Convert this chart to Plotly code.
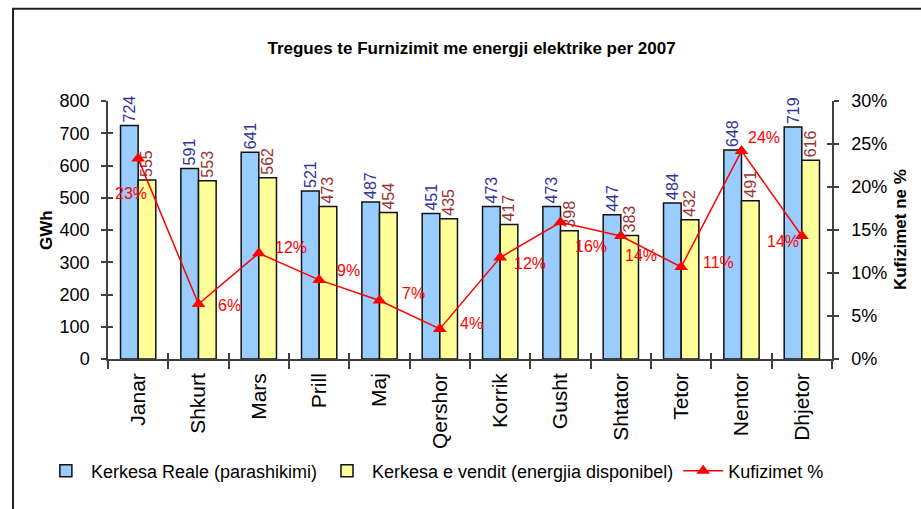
import plotly.graph_objects as go

months = ["Janar", "Shkurt", "Mars", "Prill", "Maj", "Qershor", "Korrik",
          "Gusht", "Shtator", "Tetor", "Nentor", "Dhjetor"]
kerkesa_reale = [724, 591, 641, 521, 487, 451, 473, 473, 447, 484, 648, 719]
kerkesa_vendit = [555, 553, 562, 473, 454, 435, 417, 398, 383, 432, 491, 616]
kufizimet = [0.233, 0.064, 0.123, 0.092, 0.068, 0.035, 0.118, 0.159, 0.143, 0.107, 0.242, 0.143]

# label offsets (pixels) for the percentage labels, relative to the markers
lab_dx = [-7, 31, 32, 29, 34, 32, 30, 30, 20, 37, 22, -19]
lab_dy = [-35, -2, 6, 9, 7, 5, -6, -24, -19, 4, 13, -5]

FONT = "Liberation Sans, Arial, sans-serif"

fig = go.Figure()
fig.add_trace(go.Bar(
    x=months, y=kerkesa_reale, name="Kerkesa Reale (parashikimi)",
    marker=dict(color="#99CCFF", line=dict(color="#111111", width=1.5)),
    text=[str(v) for v in kerkesa_reale], textposition="outside", textangle=-90,
    textfont=dict(family=FONT, size=16, color="#333399"),
    constraintext="none", cliponaxis=False,
))
fig.add_trace(go.Bar(
    x=months, y=kerkesa_vendit, name="Kerkesa e vendit (energjia disponibel)",
    marker=dict(color="#FFFF99", line=dict(color="#111111", width=1.5)),
    text=[str(v) for v in kerkesa_vendit], textposition="outside", textangle=-90,
    textfont=dict(family=FONT, size=16, color="#993333"),
    constraintext="none", cliponaxis=False,
))
fig.add_trace(go.Scatter(
    x=months, y=kufizimet, name="Kufizimet %", yaxis="y2",
    mode="lines+markers",
    line=dict(color="#FF0000", width=1.5),
    marker=dict(symbol="triangle-up", size=12, color="#FF0000"),
    cliponaxis=False,
))

annotations = []
for m, v, dx, dy in zip(months, kufizimet, lab_dx, lab_dy):
    annotations.append(dict(
        x=m, y=v, xref="x", yref="y2", text=f"{round(v*100):d}%",
        showarrow=False, xshift=dx, yshift=dy,
        font=dict(family=FONT, size=16, color="#FF0000"),
    ))
annotations.append(dict(
    x=-0.0856, y=0.5, xref="paper", yref="paper", text="<b>GWh</b>",
    textangle=-90, showarrow=False, xanchor="center", yanchor="middle",
    font=dict(family=FONT, size=17, color="#000000"),
))
annotations.append(dict(
    x=1.094, y=0.5, xref="paper", yref="paper", text="<b>Kufizimet ne %</b>",
    textangle=-90, showarrow=False, xanchor="center", yanchor="middle",
    font=dict(family=FONT, size=17, color="#000000"),
))

axis_col = "#404040"
ytick_vals = [0, 100, 200, 300, 400, 500, 600, 700, 800]
y2tick_vals = [0, 0.05, 0.10, 0.15, 0.20, 0.25, 0.30]

fig.update_layout(
    template="none",
    width=921, height=509,
    margin=dict(l=108, r=89, t=101, b=150, autoexpand=False),
    paper_bgcolor="white", plot_bgcolor="white",
    barmode="group", bargap=0.415, bargroupgap=0,
    title=dict(text="<b>Tregues te Furnizimit me energji elektrike per 2007</b>",
               x=0.512, xanchor="center", y=0.906, yanchor="middle",
               font=dict(family=FONT, size=17, color="#000000")),
    font=dict(family=FONT, size=18, color="#000000"),
    xaxis=dict(type="category", range=[-0.5, 11.5], tickangle=-90,
               tickson="boundaries",
               ticks="outside", ticklen=8, tickcolor=axis_col, tickwidth=1.5,
               showline=True, linecolor=axis_col, linewidth=1.5,
               showgrid=False, tickfont=dict(family=FONT, size=21),
               ticklabelstandoff=4, automargin=False),
    yaxis=dict(range=[0, 800], tickvals=ytick_vals, ticks="outside", ticklen=5,
               tickcolor=axis_col, tickwidth=1.5, showline=True,
               linecolor=axis_col, linewidth=1.5, showgrid=False, zeroline=False,
               tickfont=dict(family=FONT, size=18), ticklabelstandoff=8,
               automargin=False),
    yaxis2=dict(range=[0, 0.30], tickvals=y2tick_vals, tickformat=".0%",
                overlaying="y", side="right", ticks="outside", ticklen=5,
                tickcolor=axis_col, tickwidth=1.5, showline=True,
                linecolor=axis_col, linewidth=1.5, showgrid=False, zeroline=False,
                tickfont=dict(family=FONT, size=18), ticklabelstandoff=9,
                automargin=False),
    yaxis3=dict(range=[0, 800], tickvals=ytick_vals, overlaying="y", side="left",
                ticks="inside", ticklen=5, tickcolor=axis_col, tickwidth=1.5,
                showticklabels=False, showline=False, showgrid=False, zeroline=False,
                automargin=False),
    yaxis4=dict(range=[0, 0.30], tickvals=y2tick_vals, overlaying="y", side="right",
                ticks="inside", ticklen=5, tickcolor=axis_col, tickwidth=1.5,
                showticklabels=False, showline=False, showgrid=False, zeroline=False,
                automargin=False),
    xaxis2=dict(range=[-0.5, 11.5], tickvals=[i - 0.5 for i in range(13)],
                overlaying="x", side="bottom", ticks="inside", ticklen=6,
                tickcolor=axis_col, tickwidth=1.5, showticklabels=False,
                showline=False, showgrid=False, zeroline=False, automargin=False),
    legend=dict(orientation="h", x=-0.0927, xanchor="left", y=-0.434, yanchor="middle",
                font=dict(family=FONT, size=18), itemwidth=40,
                bgcolor="rgba(0,0,0,0)"),
    annotations=annotations,
    shapes=[dict(type="rect", xref="paper", yref="paper",
                 x0=-0.1312, y0=-0.62, x1=1.14, y1=1.358,
                 line=dict(color="#222222", width=2))],
)

# invisible helper traces so the overlay tick axes are drawn
fig.add_trace(go.Scatter(x=[None], y=[None], yaxis="y3", showlegend=False, hoverinfo="skip"))
fig.add_trace(go.Scatter(x=[None], y=[None], yaxis="y4", showlegend=False, hoverinfo="skip"))
fig.add_trace(go.Scatter(x=[None], y=[None], xaxis="x2", showlegend=False, hoverinfo="skip"))

fig.write_html("out.html", config={"displayModeBar": False},
               post_script="document.body.style.margin='0';document.body.style.overflow='hidden';")
